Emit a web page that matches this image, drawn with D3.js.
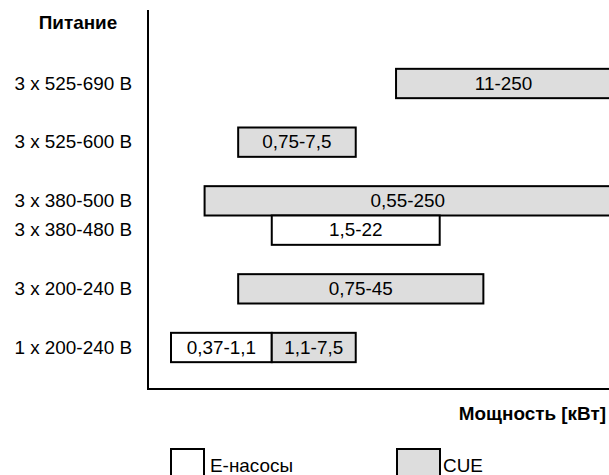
<!DOCTYPE html>
<html>
<head>
<meta charset="utf-8">
<script src="https://cdn.jsdelivr.net/npm/d3@7"></script>
<style>
  body { margin: 0; background: #fff; }
  text { font-family: "Liberation Sans", Arial, sans-serif; fill: #000; }
</style>
</head>
<body>
<div id="canvas"></div>
<script>
// supply rows (top to bottom) and their vertical slot
const supplies = ["3 x 525-690 В", "3 x 525-600 В", "3 x 380-500 В", "3 x 380-480 В", "3 x 200-240 В", "1 x 200-240 В"];
const rowSlots = [0, 1, 2, 2.5, 3.5, 4.5];

// power ranges, kW
const barRow = [0, 1, 2, 3, 4, 5, 5];
const barFrom = [11, 0.75, 0.55, 1.5, 0.75, 0.37, 1.1];
const barTo = [250, 7.5, 250, 22, 45, 1.1, 7.5];
const barSeries = ["CUE", "CUE", "CUE", "E", "CUE", "E", "CUE"];

// schematic power axis: kW step -> grid slot (the picture is not to scale)
const kwSteps = [0.37, 0.55, 0.75, 1.1, 1.5, 7.5, 11, 22, 45, 250];
const kwSlots = [0, 1, 2, 3, 3, 5.5, 6.7, 8, 9.3, 13.1];

const seriesNames = ["E", "CUE"];
const legendLabels = ["Е-насосы", "CUE"];
const seriesFill = { E: "#ffffff", CUE: "#dddddd" };

const width = 609, height = 475;
const sx = 1.08; // text in the picture is a little wide

const svg = d3.select("#canvas").append("svg")
    .attr("width", width)
    .attr("height", height);

const slotX = d3.scaleLinear().domain([0, 13.1]).range([171, 611]);
const x = d3.scaleLinear().domain(kwSteps).range(kwSlots.map(slotX));
const y = d3.scaleLinear().domain([0, 4.5]).range([83.5, 347.5]);
const barH = y(0.5) - y(0);

function label(g, px, py, str, opt) {
    opt = opt || {};
    return g.append("text")
        .attr("transform", `translate(${px},${py}) scale(${sx},1)`)
        .attr("text-anchor", opt.anchor || "start")
        .attr("dy", opt.dy || 0)
        .style("font-size", (opt.size || 17.5) + "px")
        .style("font-weight", opt.bold ? "bold" : "normal")
        .text(str);
}

const fmt = (v) => String(v).replace(".", ",");

// bars
const bars = barFrom.map((f, i) => ({ from: f, to: barTo[i], row: barRow[i], s: barSeries[i] }));
const g = svg.append("g");
g.selectAll("rect.bar").data(bars).enter()
    .append("rect")
    .attr("class", "bar")
    .attr("x", d => x(d.from))
    .attr("y", d => y(rowSlots[d.row]) - barH / 2)
    .attr("width", d => x(d.to) - x(d.from))
    .attr("height", barH)
    .style("fill", d => seriesFill[d.s])
    .style("stroke", "#000")
    .style("stroke-width", 2);

bars.forEach(d => {
    label(g, (x(d.from) + x(d.to)) / 2, y(rowSlots[d.row]), fmt(d.from) + "-" + fmt(d.to),
        { anchor: "middle", dy: "0.35em" });
});

// axes
svg.append("line").attr("x1", 148).attr("x2", 148).attr("y1", 10).attr("y2", 390)
    .style("stroke", "#000").style("stroke-width", 2);
svg.append("line").attr("x1", 147).attr("x2", width).attr("y1", 389).attr("y2", 389)
    .style("stroke", "#000").style("stroke-width", 2);

// row labels
supplies.forEach((s, i) => {
    label(svg, 132, y(rowSlots[i]), s, { anchor: "end", dy: "0.35em" });
});
label(svg, 78, 29, "Питание", { anchor: "middle", bold: true });
label(svg, 606, 420, "Мощность [кВт]", { anchor: "end", bold: true });

// legend
const legX = [171, 397], legW = [33, 43], legTextX = [210, 443];
seriesNames.forEach((s, i) => {
    svg.append("rect")
        .attr("x", legX[i]).attr("y", 449)
        .attr("width", legW[i]).attr("height", 34)
        .style("fill", seriesFill[s])
        .style("stroke", "#000")
        .style("stroke-width", 2);
    label(svg, legTextX[i], 472, legendLabels[i]);
});
</script>
</body>
</html>
